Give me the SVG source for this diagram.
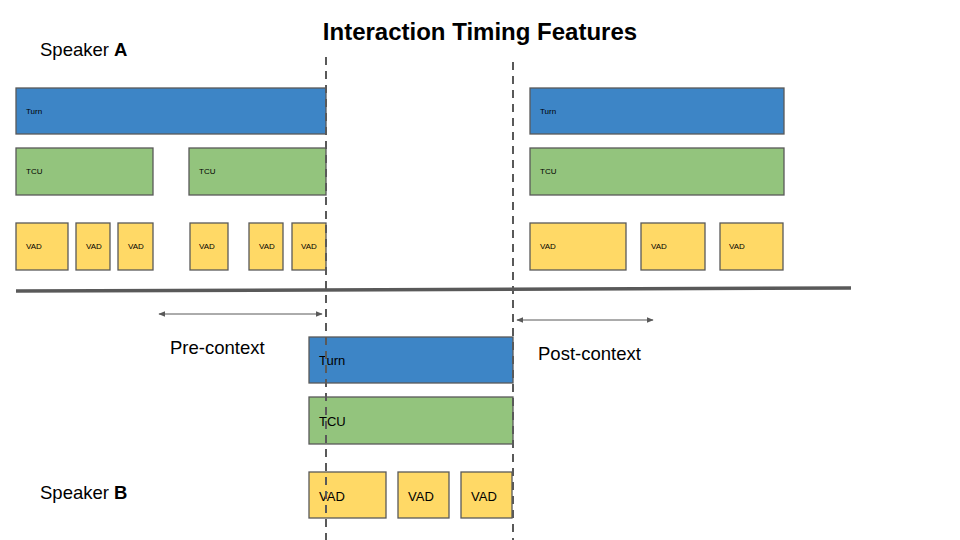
<svg xmlns="http://www.w3.org/2000/svg" width="960" height="540" viewBox="0 0 960 540">
<defs>
<style>
.turn{fill:#3d85c6;stroke:#595959;stroke-width:1.3}
.tcu{fill:#93c47d;stroke:#595959;stroke-width:1.3}
.vad{fill:#ffd966;stroke:#595959;stroke-width:1.3}
.s{font-family:"Liberation Sans",Arial,sans-serif;font-size:8px;fill:#000}
.b{font-family:"Liberation Sans",Arial,sans-serif;font-size:13px;fill:#000}
.lbl{font-family:"Liberation Sans",Arial,sans-serif;font-size:18.5px;fill:#000}
.dash{stroke:#595959;stroke-width:2;stroke-dasharray:8,6;fill:none}
.arr{stroke:#595959;stroke-width:1;fill:none;marker-start:url(#ah);marker-end:url(#ah)}
</style>
<marker id="ah" viewBox="0 0 10 10" refX="9" refY="5" markerWidth="7" markerHeight="7" orient="auto-start-reverse" markerUnits="userSpaceOnUse">
<path d="M0,1 L10,5 L0,9 z" fill="#595959"/>
</marker>
</defs>
<rect width="960" height="540" fill="#fff"/>
<text x="480" y="40" text-anchor="middle" font-family="Liberation Sans,Arial,sans-serif" font-size="24" font-weight="bold">Interaction Timing Features</text>
<text class="lbl" x="40" y="56">Speaker <tspan font-weight="bold">A</tspan></text>
<text class="lbl" x="40" y="499">Speaker <tspan font-weight="bold">B</tspan></text>

<g id="a-turn1"><rect class="turn" x="16" y="88" width="310" height="46"/><text class="s" x="26" y="114">Turn</text></g>
<g id="a-tcu1"><rect class="tcu" x="16" y="148" width="137" height="47"/><text class="s" x="26" y="174">TCU</text></g>
<g id="a-tcu2"><rect class="tcu" x="189" y="148" width="137" height="47"/><text class="s" x="199" y="174">TCU</text></g>
<g id="a-vad1"><rect class="vad" x="16" y="223" width="52" height="47"/><text class="s" x="26" y="249">VAD</text></g>
<g id="a-vad2"><rect class="vad" x="76" y="223" width="34" height="47"/><text class="s" x="86" y="249">VAD</text></g>
<g id="a-vad3"><rect class="vad" x="118" y="223" width="35" height="47"/><text class="s" x="128" y="249">VAD</text></g>
<g id="a-vad4"><rect class="vad" x="190" y="223" width="38" height="47"/><text class="s" x="199" y="249">VAD</text></g>
<g id="a-vad5"><rect class="vad" x="249" y="223" width="34" height="47"/><text class="s" x="259" y="249">VAD</text></g>
<g id="a-vad6"><rect class="vad" x="292" y="223" width="34" height="47"/><text class="s" x="301" y="249">VAD</text></g>

<g id="a-turn2"><rect class="turn" x="530" y="88" width="254" height="46"/><text class="s" x="540" y="114">Turn</text></g>
<g id="a-tcu3"><rect class="tcu" x="530" y="148" width="254" height="47"/><text class="s" x="540" y="174">TCU</text></g>
<g id="a-vad7"><rect class="vad" x="530" y="223" width="96" height="47"/><text class="s" x="540" y="249">VAD</text></g>
<g id="a-vad8"><rect class="vad" x="641" y="223" width="64" height="47"/><text class="s" x="651" y="249">VAD</text></g>
<g id="a-vad9"><rect class="vad" x="720" y="223" width="63" height="47"/><text class="s" x="729" y="249">VAD</text></g>

<g id="b-turn"><rect class="turn" x="309" y="337" width="204" height="46"/><text class="b" x="319" y="365">Turn</text></g>
<g id="b-tcu"><rect class="tcu" x="309" y="397" width="204" height="47"/><text class="b" x="319" y="426">TCU</text></g>
<g id="b-vad1"><rect class="vad" x="309" y="472" width="77" height="46"/><text class="b" x="319" y="501">VAD</text></g>
<g id="b-vad2"><rect class="vad" x="398" y="472" width="51" height="46"/><text class="b" x="408" y="501">VAD</text></g>
<g id="b-vad3"><rect class="vad" x="461" y="472" width="51" height="46"/><text class="b" x="471" y="501">VAD</text></g>

<text class="lbl" x="170" y="354">Pre-context</text>
<text class="lbl" x="538" y="360">Post-context</text>

<g id="connectors">
<line x1="16" y1="291" x2="851" y2="288" stroke="#595959" stroke-width="3.5"/>
<line class="dash" x1="326" y1="57" x2="326" y2="540"/>
<line class="dash" x1="513" y1="62" x2="513" y2="540"/>
<line class="arr" x1="159" y1="314" x2="322" y2="314"/>
<line class="arr" x1="517" y1="320" x2="653" y2="320"/>
</g>
</svg>
